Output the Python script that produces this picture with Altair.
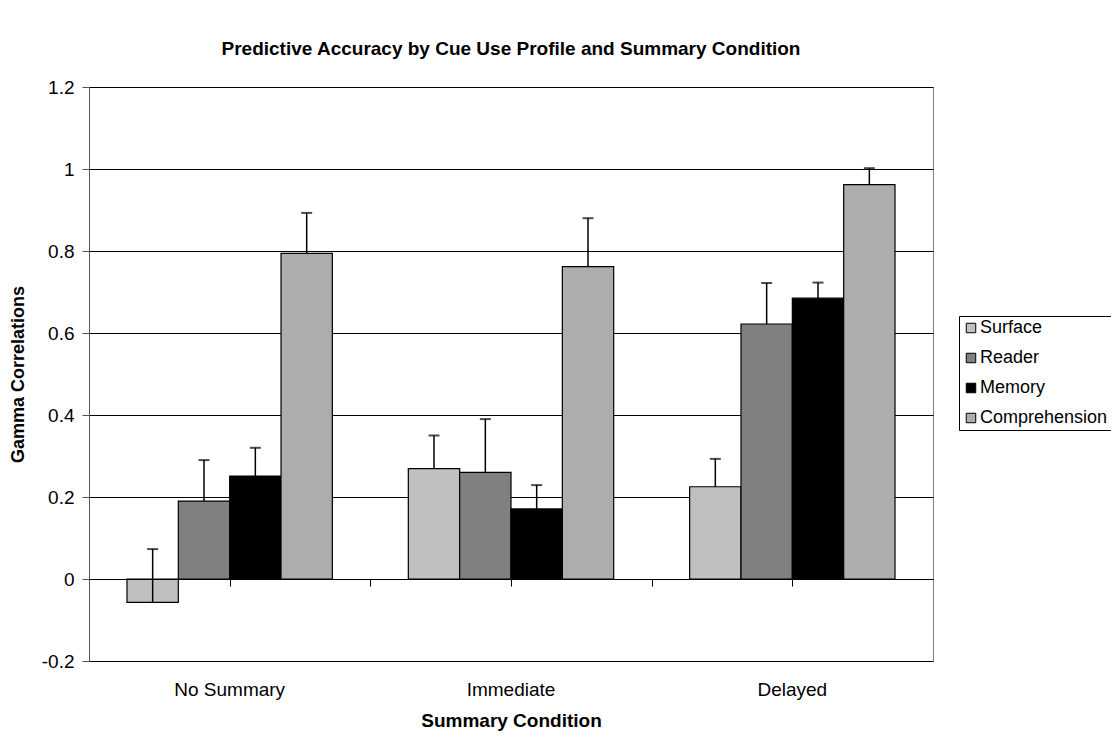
import altair as alt
import pandas as pd

conditions = ["No Summary", "Immediate", "Delayed"]
profiles = ["Surface", "Reader", "Memory", "Comprehension"]
colors = ["#c0c0c0", "#808080", "#000000", "#adadad"]

# gamma correlations per profile, ordered by condition
surface = [-0.057, 0.269, 0.225]
reader = [0.19, 0.26, 0.622]
memory = [0.251, 0.171, 0.685]
comprehension = [0.794, 0.762, 0.962]

# upper end of each error bar
surface_hi = [0.073, 0.350, 0.293]
reader_hi = [0.290, 0.390, 0.722]
memory_hi = [0.320, 0.229, 0.723]
comprehension_hi = [0.893, 0.880, 1.002]

y_ticks = [-0.2, 0, 0.2, 0.4, 0.6, 0.8, 1.0, 1.2]
zero_ticks = [1, 2, 3, 4, 5]

rows = []
for prof, vals, his in zip(profiles,
                           [surface, reader, memory, comprehension],
                           [surface_hi, reader_hi, memory_hi, comprehension_hi]):
    for cond, v, h in zip(conditions, vals, his):
        rows.append({"condition": cond, "profile": prof, "value": v, "hi": h})
df = pd.DataFrame(rows)

FONT = "Liberation Sans"
FS = 19

x_scale = alt.Scale(paddingInner=0.27, paddingOuter=0.135)
x_axis = alt.Axis(
    title="Summary Condition",
    labelAngle=0,
    domain=False,
    ticks=False,
    labelFontSize=FS,
    labelPadding=19,
    labelColor="black",
    titleFontSize=FS,
    titleFontWeight="bold",
    titleColor="black",
    titlePadding=12,
)
x_enc = alt.X("condition:N", sort=conditions, scale=x_scale, axis=x_axis)
xoff = alt.XOffset("profile:N", sort=profiles, scale=alt.Scale(paddingInner=0, paddingOuter=0))
y_scale = alt.Scale(domain=[-0.2, 1.2], nice=False, zero=False)
y_axis = alt.Axis(
    values=y_ticks,
    labelExpr="datum.value < 0 ? '-' + format(-datum.value, '~g') : format(datum.value, '~g')",
    title="Gamma Correlations",
    titleFontSize=FS - 1,
    titleFontWeight="bold",
    titleColor="black",
    titlePadding=14,
    labelFontSize=FS,
    labelColor="black",
    labelPadding=8,
    tickSize=7,
    tickColor="#555",
    domainColor="#555",
    gridColor="black",
    gridWidth=1,
)

bars = alt.Chart(df).mark_bar(stroke="black", strokeWidth=1.2).encode(
    x=x_enc,
    xOffset=xoff,
    y=alt.Y("value:Q", scale=y_scale, axis=y_axis),
    y2=alt.datum(0),
    color=alt.Color(
        "profile:N",
        sort=profiles,
        scale=alt.Scale(domain=profiles, range=colors),
        legend=alt.Legend(
            title=None,
            orient="none",
            legendX=870,
            legendY=229,
            symbolType="square",
            symbolSize=90,
            symbolStrokeColor="black",
            symbolStrokeWidth=1,
            labelFontSize=18,
            labelColor="black",
            rowPadding=12,
            strokeColor="black",
            padding=3,
            labelOffset=0,
        ),
    ),
)

err = alt.Chart(df).mark_rule(color="black", strokeWidth=1.5).encode(
    x=x_enc,
    xOffset=xoff,
    y=alt.Y("value:Q", scale=y_scale, axis=y_axis),
    y2="hi:Q",
)

caps = alt.Chart(df).mark_tick(color="black", thickness=2, size=11, orient="horizontal").encode(
    x=x_enc,
    xOffset=xoff,
    y=alt.Y("hi:Q", scale=y_scale, axis=y_axis),
)

zero_df = pd.DataFrame({"pos": zero_ticks})
zero_axis = alt.Chart(zero_df).mark_point(opacity=0).encode(
    x=alt.X(
        "pos:Q",
        scale=alt.Scale(domain=[0, 6], nice=False),
        axis=alt.Axis(
            values=zero_ticks,
            orient="bottom",
            offset=-82,
            labels=False,
            title=None,
            grid=False,
            tickSize=7,
            tickColor="black",
            domainColor="black",
            domainWidth=1.2,
            zindex=1,
        ),
    ),
)

main = alt.layer(bars, err, caps)

chart = (
    alt.layer(main, zero_axis)
    .resolve_scale(x="independent")
    .properties(
        width=844,
        height=574,
        autosize=alt.AutoSizeParams(type="none"),
        padding={"left": 81, "top": 79, "right": 178, "bottom": 73},
        title=alt.Title(
            "Predictive Accuracy by Cue Use Profile and Summary Condition",
            fontSize=FS,
            fontWeight="bold",
            color="black",
            anchor="middle",
            offset=19,
            font=FONT,
        ),
    )
    .configure(font=FONT, background="white")
    .configure_axis(labelFont=FONT, titleFont=FONT)
    .configure_legend(labelFont=FONT)
    .configure_view(stroke="#808080", strokeWidth=1)
)

chart.save("out.html", embed_options={"renderer": "svg", "actions": False})
